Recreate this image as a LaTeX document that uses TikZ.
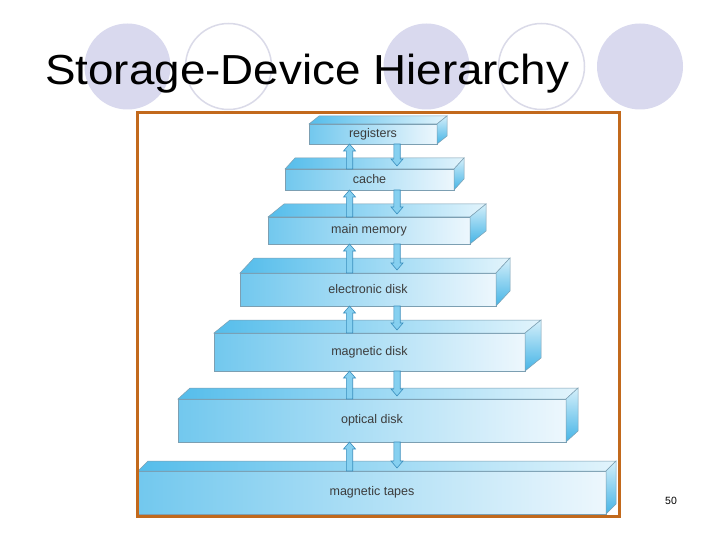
\documentclass[tikz,border=0pt]{standalone}
\usepackage{fontspec}
\setmainfont{Liberation Sans}
\usetikzlibrary{calc}
\definecolor{lavfill}{HTML}{D9D9EE}
\definecolor{lavline}{HTML}{DADAE8}
\definecolor{frameor}{HTML}{C2691C}
\definecolor{boxleft}{HTML}{72C8EE}
\definecolor{boxright}{HTML}{EDF7FD}
\definecolor{topleft}{HTML}{55BDEB}
\definecolor{topright}{HTML}{E2F4FC}
\definecolor{sidetop}{HTML}{D4EFFA}
\definecolor{sidebot}{HTML}{45B4E6}
\definecolor{edgecol}{HTML}{7C9FB2}
\definecolor{arrfill}{HTML}{86D0F0}
\definecolor{arrline}{HTML}{3A8FBE}
\definecolor{labcol}{HTML}{3C3C3C}
\newcommand\drawfaces[3]{%
  \shadedraw[topface] (#1.north west) -- ++(#2,-#3) -- ($(#1.north east)+(#2,-#3)$) -- (#1.north east) -- cycle;
  \shadedraw[sideface] (#1.north east) -- ++(#2,-#3) -- ($(#1.south east)+(#2,-#3)$) -- (#1.south east) -- cycle;
}
\begin{document}
\begin{tikzpicture}[x=1pt,y=-1pt,
  lavdisk/.style={fill=lavfill,draw=none},
  lavring/.style={draw=lavline,line width=1.5pt,fill=none},
  levelbox/.style={draw=edgecol,line width=0.5pt,left color=boxleft,right color=boxright,
    inner sep=0pt,outer sep=0pt,text=labcol,font=\fontsize{12.5}{14}\selectfont},
  topface/.style={draw=edgecol,line width=0.5pt,left color=topleft,right color=topright},
  sideface/.style={draw=edgecol,line width=0.5pt,top color=sidetop,bottom color=sidebot},
  barrow/.style={draw=arrline,fill=arrfill,line width=0.6pt,line join=miter,
    to path={let \p1=(\tikztostart), \p2=(\tikztotarget), \n1={sign(\y2-\y1)} in
      (\x1-3.2pt,\y1) -- (\x1-3.2pt,{\y2-\n1*7pt}) -- (\x1-6pt,{\y2-\n1*7pt}) -- (\x1,\y2)
      -- (\x1+6pt,{\y2-\n1*7pt}) -- (\x1+3.2pt,{\y2-\n1*7pt}) -- (\x1+3.2pt,\y1) -- cycle}},
  frame/.style={draw=frameor,line width=3pt}
]
\useasboundingbox (0,0) rectangle (720,540);
\fill[white] (0,0) rectangle (720,540);
% background circles
\fill[lavdisk] (127.5,66.5) circle[radius=43];
\draw[lavring] (228.5,66.5) circle[radius=43];
\fill[lavdisk] (426.5,66.5) circle[radius=43];
\draw[lavring] (541.5,66.5) circle[radius=43];
\fill[lavdisk] (640,66.5) circle[radius=43];
% title
\node[anchor=base west,inner sep=0pt] (title) at (45,85)
  {\scalebox{1.09}[1]{\fontsize{42}{48}\selectfont Storage-Device Hierarchy}};
% levels
\node[levelbox,minimum width=128,minimum height=20] (reg) at (373,134) {registers};
\node[levelbox,minimum width=169,minimum height=21] (cache) at (369.5,179.5) {cache};
\node[levelbox,minimum width=202,minimum height=27] (mm) at (369,230.5) {main memory};
\node[levelbox,minimum width=256,minimum height=33] (ed) at (368,289.5) {electronic disk};
\node[levelbox,minimum width=311,minimum height=38] (md) at (369.5,352) {magnetic disk};
\node[levelbox,minimum width=388,minimum height=43] (od) at (372,420.5) {optical disk};
\node[levelbox,minimum width=468,minimum height=43] (mt) at (372,492.5) {magnetic tapes};
\drawfaces{reg}{10}{8}
\drawfaces{cache}{10}{11}
\drawfaces{mm}{16}{13}
\drawfaces{ed}{14}{15}
\drawfaces{md}{16}{13}
\drawfaces{od}{12}{11}
\drawfaces{mt}{10}{10}
% arrows
\coordinate (ua) at (349.5,0);
\coordinate (da) at (397,0);
\foreach \lo/\hi in {cache/reg,mm/cache,ed/mm,md/ed,od/md,mt/od}{
  \path[barrow] (\lo.north -| ua) to (\hi.south -| ua);
  \path[barrow] (\hi.south -| da) to ($(\lo.north -| da)+(0,-3)$);
}
% frame
\draw[frame] (137,113) rectangle (619,516);
% page number
\node[inner sep=0pt,font=\fontsize{10.5}{12}\selectfont] (pg) at (671,501) {50};
\end{tikzpicture}
\end{document}
